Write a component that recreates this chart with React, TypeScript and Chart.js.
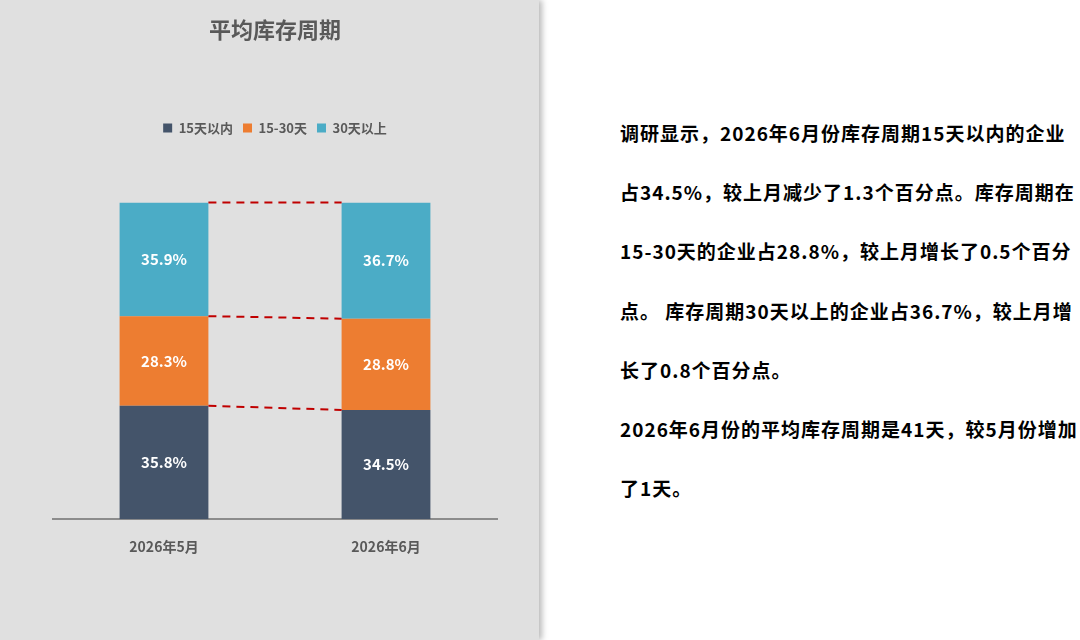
import React, { useEffect, useRef } from "react";
import { Chart, registerables } from "chart.js";

Chart.register(...registerables);

const months = ["2026年5月", "2026年6月"];
const seriesNames = ["15天以内", "15-30天", "30天以上"];
const within15 = [35.8, 34.5];
const from15to30 = [28.3, 28.8];
const over30 = [35.9, 36.7];
const seriesColors = ["#44546A", "#ED7D31", "#4BACC6"];
const chartTitle = "平均库存周期";

const summaryLines = [
  "调研显示，2026年6月份库存周期15天以内的企业",
  "占34.5%，较上月减少了1.3个百分点。库存周期在",
  "15-30天的企业占28.8%，较上月增长了0.5个百分",
  "点。 库存周期30天以上的企业占36.7%，较上月增",
  "长了0.8个百分点。",
  "2026年6月份的平均库存周期是41天，较5月份增加",
  "了1天。",
];

const FONT = '"Noto Sans CJK SC", "Noto Sans", sans-serif';

// Extra gap below the legend before the plot area starts
const legendGap = {
  id: "legendGap",
  beforeInit(chart: any) {
    const legend = chart.legend;
    if (!legend) return;
    const origFit = legend.fit;
    legend.fit = function () {
      origFit.bind(legend)();
      this.height += 58;
    };
  },
};

// Percent labels centred inside each stacked segment
const segmentLabels = {
  id: "segmentLabels",
  afterDatasetsDraw(chart: any) {
    const ctx = chart.ctx;
    ctx.save();
    ctx.font = `bold 15px ${FONT}`;
    ctx.fillStyle = "#FFFFFF";
    ctx.textAlign = "center";
    ctx.textBaseline = "middle";
    chart.data.datasets.forEach((ds: any, i: number) => {
      const meta = chart.getDatasetMeta(i);
      meta.data.forEach((bar: any, j: number) => {
        const v = ds.data[j];
        ctx.fillText(v.toFixed(1) + "%", bar.x, (bar.y + bar.base) / 2);
      });
    });
    ctx.restore();
  },
};

// Dashed connectors between matching segment tops of the two bars
const segmentConnectors = {
  id: "segmentConnectors",
  afterDatasetsDraw(chart: any) {
    const ctx = chart.ctx;
    ctx.save();
    ctx.strokeStyle = "#C00000";
    ctx.lineWidth = 2;
    ctx.setLineDash([8, 6]);
    chart.data.datasets.forEach((_ds: any, i: number) => {
      const meta = chart.getDatasetMeta(i);
      const a = meta.data[0];
      const b = meta.data[1];
      if (!a || !b) return;
      ctx.beginPath();
      ctx.moveTo(a.x + a.width / 2, a.y);
      ctx.lineTo(b.x - b.width / 2, b.y);
      ctx.stroke();
    });
    ctx.restore();
  },
};

function StackChart() {
  const ref = useRef<HTMLCanvasElement | null>(null);

  useEffect(() => {
    if (!ref.current) return;
    const values = [within15, from15to30, over30];
    const chart = new Chart(ref.current, {
      type: "bar",
      data: {
        labels: months,
        datasets: seriesNames.map((name, i) => ({
          label: name,
          data: values[i],
          backgroundColor: seriesColors[i],
          borderWidth: 0,
          categoryPercentage: 0.8,
          barPercentage: 0.5,
        })),
      },
      options: {
        animation: false,
        responsive: false,
        maintainAspectRatio: false,
        layout: { padding: { left: 53, right: 42, top: 0, bottom: 66 } },
        plugins: {
          title: {
            display: true,
            text: chartTitle,
            color: "#595959",
            font: { family: FONT, size: 22, weight: "bold" },
            padding: { top: 16, bottom: 69 },
          },
          legend: {
            display: true,
            position: "top",
            labels: {
              boxWidth: 9,
              boxHeight: 9,
              padding: 10,
              color: "#595959",
              font: { family: FONT, size: 13, weight: "bold" },
            },
          },
          tooltip: { enabled: false },
        },
        scales: {
          x: {
            stacked: true,
            grid: { display: false, drawTicks: false },
            border: { display: true, color: "#8C8C8C", width: 2 },
            ticks: {
              padding: 19,
              color: "#595959",
              font: { family: FONT, size: 14, weight: "bold" },
            },
          },
          y: {
            stacked: true,
            display: false,
            min: 0,
            max: 100,
          },
        },
      },
      plugins: [legendGap, segmentLabels, segmentConnectors],
    });
    return () => chart.destroy();
  }, []);

  return <canvas ref={ref} width={539} height={640} style={{ display: "block" }} />;
}

export default function App() {
  return (
    <div
      style={{
        position: "fixed",
        left: 0,
        top: 0,
        width: 1080,
        height: 640,
        background: "#FFFFFF",
        overflow: "hidden",
      }}
    >
      <div
        style={{
          position: "absolute",
          left: 0,
          top: 0,
          width: 539,
          height: 640,
          background: "#E0E0E0",
          boxShadow: "3px 0 6px rgba(0,0,0,0.28)",
        }}
      >
        <StackChart />
      </div>
      <div
        style={{
          position: "absolute",
          left: 620,
          top: 103,
          fontFamily: FONT,
          fontWeight: "bold",
          fontSize: 19,
          letterSpacing: 1,
          lineHeight: "59.2px",
          color: "#000000",
          whiteSpace: "nowrap",
        }}
      >
        {summaryLines.map((line, i) => (
          <div key={i}>{line}</div>
        ))}
      </div>
    </div>
  );
}
